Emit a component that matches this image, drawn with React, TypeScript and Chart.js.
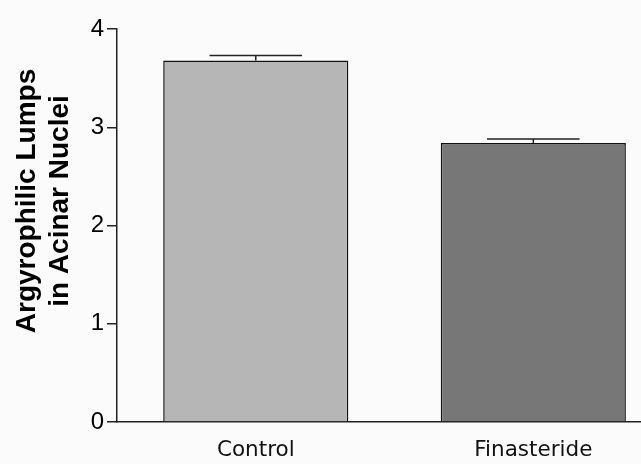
import React, { useEffect, useRef } from "react";
import { Chart, registerables } from "chart.js";

Chart.register(...registerables);

const categories: string[] = ["Control", "Finasteride"];
const means: number[] = [3.68, 2.84];
const errors: number[] = [0.05, 0.04];
const barColors: string[] = ["#b6b6b6", "#777777"];
const yTicks: number[] = [0, 1, 2, 3, 4];
const titleLines: string[] = ["Argyrophilic Lumps", "in Acinar Nuclei"];

const errorBarPlugin = {
  id: "errorBars",
  afterDatasetsDraw(chart: any) {
    const ctx = chart.ctx;
    const meta = chart.getDatasetMeta(0);
    const y = chart.scales.y;
    ctx.save();
    ctx.strokeStyle = "#222";
    ctx.lineWidth = 1.5;
    meta.data.forEach((bar: any, i: number) => {
      const top = y.getPixelForValue(means[i] + errors[i]);
      const base = y.getPixelForValue(means[i]);
      const half = bar.width * 0.25;
      ctx.beginPath();
      ctx.moveTo(bar.x, base);
      ctx.lineTo(bar.x, top);
      ctx.moveTo(bar.x - half, top);
      ctx.lineTo(bar.x + half, top);
      ctx.stroke();
    });
    ctx.restore();
  },
};

const titlePlugin = {
  id: "yTitle",
  afterDraw(chart: any) {
    const ctx = chart.ctx;
    ctx.save();
    ctx.translate(0, 201);
    ctx.rotate(-Math.PI / 2);
    ctx.fillStyle = "#000";
    ctx.font = "bold 28px 'Liberation Sans', Arial, sans-serif";
    ctx.textAlign = "center";
    ctx.textBaseline = "alphabetic";
    ctx.fillText(titleLines[0], 0, 35);
    ctx.fillText(titleLines[1], 0, 68);
    ctx.restore();
  },
};

export default function App() {
  const ref = useRef<HTMLCanvasElement | null>(null);
  useEffect(() => {
    if (!ref.current) return;
    const chart = new Chart(ref.current, {
      type: "bar",
      data: {
        datasets: [
          {
            data: means.map((v, i) => ({ x: i, y: v })),
            backgroundColor: barColors,
            borderColor: "#111",
            borderWidth: 1.5,
            borderSkipped: "bottom",
            barPercentage: 0.667,
            categoryPercentage: 1,
          } as any,
        ],
      },
      options: {
        responsive: false,
        animation: false,
        layout: { padding: { top: 29, left: 0, right: 0, bottom: 0 } },
        plugins: { legend: { display: false }, tooltip: { enabled: false } },
        scales: {
          x: {
            type: "linear",
            offset: false,
            min: -0.5,
            max: 1.388,
            afterBuildTicks: (s: any) => {
              s.ticks = categories.map((_, i) => ({ value: i }));
            },
            afterFit: (s: any) => {
              s.height = 42;
            },
            ticks: {
              callback: (v: any) => categories[v as number] ?? "",
              color: "#111",
              font: { family: "'DejaVu Sans', sans-serif", size: 21.5 },
              padding: 8,
              maxRotation: 0,
              autoSkip: false,
            },
            grid: { display: false },
            border: { display: true, color: "#222", width: 1.5 },
          },
          y: {
            min: 0,
            max: 4,
            afterBuildTicks: (s: any) => {
              s.ticks = yTicks.map((v) => ({ value: v }));
            },
            afterFit: (s: any) => {
              s.width = 117;
            },
            ticks: {
              color: "#000",
              font: { family: "'Liberation Sans', Arial, sans-serif", size: 24 },
              padding: 3,
            },
            grid: {
              drawOnChartArea: false,
              drawTicks: true,
              tickLength: 10,
              color: "#222",
              lineWidth: 1.5,
            },
            border: { display: true, color: "#222", width: 1.5 },
          },
        },
      },
      plugins: [errorBarPlugin, titlePlugin],
    });
    return () => chart.destroy();
  }, []);
  return (
    <div style={{ position: "absolute", left: 0, top: 0, width: 641, height: 464, background: "#fbfbfb" }}>
      <canvas ref={ref} width={641} height={464} style={{ display: "block" }} />
    </div>
  );
}
